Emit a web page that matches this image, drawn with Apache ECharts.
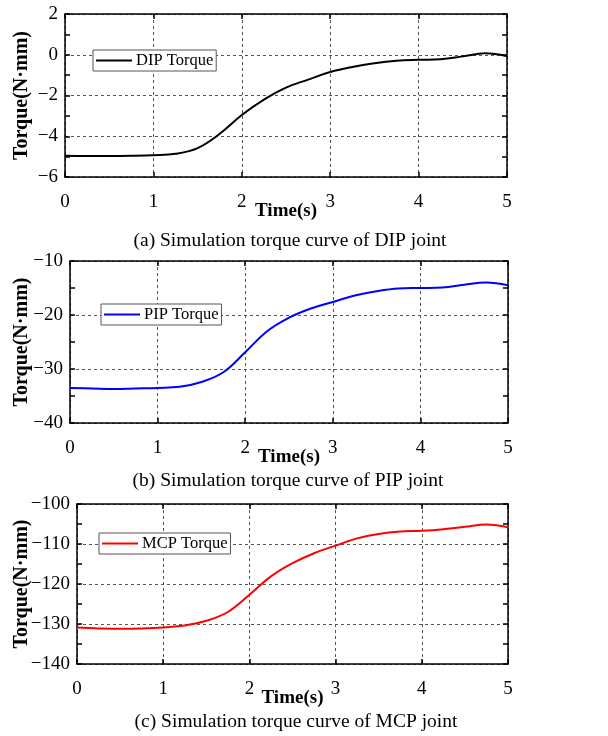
<!DOCTYPE html>
<html><head><meta charset="utf-8">
<script src="https://cdn.jsdelivr.net/npm/echarts@6/dist/echarts.min.js"></script>
<style>html,body{margin:0;padding:0;background:#fff}#c{width:608px;height:736px}</style>
</head><body><div id="c"></div>
<script>
const time = [0,0.25,0.5,0.75,1,1.25,1.5,1.75,2,2.25,2.5,2.75,3,3.25,3.5,3.75,4,4.25,4.5,4.75,5];
const dipTorque = [-4.96,-4.97,-4.97,-4.96,-4.93,-4.86,-4.58,-3.88,-2.96,-2.2,-1.61,-1.22,-0.85,-0.6,-0.42,-0.3,-0.25,-0.22,-0.08,0.07,-0.07];
const pipTorque = [-33.5,-33.6,-33.7,-33.6,-33.5,-33.3,-32.4,-30.6,-26.9,-23.0,-20.5,-18.8,-17.6,-16.4,-15.6,-15.1,-15.0,-14.9,-14.4,-14.0,-14.5];
const mcpTorque = [-130.9,-131.1,-131.2,-131.1,-130.85,-130.4,-129.2,-127.0,-122.7,-118.1,-114.8,-112.3,-110.4,-108.6,-107.5,-106.9,-106.7,-106.3,-105.7,-105.1,-105.8];
const seriesNames = ['DIP Torque','PIP Torque','MCP Torque'];
const seriesColors = ['#000000','#0000ff','#ff0000'];
const captions = ['(a) Simulation torque curve of DIP joint','(b) Simulation torque curve of PIP joint','(c) Simulation torque curve of MCP joint'];
const yRanges = [[-6,2,2],[-40,-10,10],[-140,-100,10]];
const xRange = [0,5,1];
const xName = 'Time(s)';
const yName = 'Torque(N·mm)';

const FONT = 'Liberation Serif';
const grids = [
  {left:65, right:101, top:14, height:163, outerBoundsMode:'none', containLabel:false},
  {left:70, right:100, top:261, height:162, outerBoundsMode:'none', containLabel:false},
  {left:77, right:100, top:504, height:160, outerBoundsMode:'none', containLabel:false}
];
const yGaps = [33,38,45];
const legendPos = [[93,50],[101,304],[99,533]];
const captionY = [241,481,722];
const captionX = [290,288,296];
const allData = [dipTorque, pipTorque, mcpTorque];
const fmt = v => String(v).replace('-', '\u2212');

const xAxes = [], yAxes = [], series = [], legends = [], graphics = [];
grids.forEach((g, i) => {
  const axLine = {show:true, onZero:false, lineStyle:{color:'#000', width:1.5}};
  xAxes.push({gridIndex:i, type:'value', min:xRange[0], max:xRange[1], interval:xRange[2],
    name:xName, nameLocation:'middle', nameGap:25, nameMoveOverlap:false,
    nameTextStyle:{fontFamily:FONT, fontWeight:'bold', fontSize:19, color:'#000', verticalAlign:'top'},
    axisLine:axLine, axisTick:{show:true, inside:true, length:5, lineStyle:{color:'#000', width:1.5}},
    axisLabel:{fontFamily:FONT, fontSize:19, color:'#000', margin:16, formatter:fmt},
    splitLine:{show:true, lineStyle:{type:[3,3], color:'#555', width:1}}});
  xAxes.push({gridIndex:i, type:'value', position:'top', min:xRange[0], max:xRange[1], interval:xRange[2],
    axisLine:axLine, axisTick:{show:true, inside:true, length:5, lineStyle:{color:'#000', width:1.5}},
    axisLabel:{show:false}, splitLine:{show:false}});
  const yr = yRanges[i];
  yAxes.push({gridIndex:i, type:'value', min:yr[0], max:yr[1], interval:yr[2],
    name:yName, nameLocation:'middle', nameGap:yGaps[i], nameRotate:90, nameMoveOverlap:false,
    nameTextStyle:{fontFamily:FONT, fontWeight:'bold', fontSize:20, color:'#000'},
    axisLine:axLine, axisTick:{show:true, inside:true, length:5, lineStyle:{color:'#000', width:1.5}},
    minorTick:{show:true, splitNumber:2, length:5, lineStyle:{color:'#000', width:1.5}},
    axisLabel:{fontFamily:FONT, fontSize:19, color:'#000', margin:7, formatter:fmt},
    splitLine:{show:true, lineStyle:{type:[3,3], color:'#555', width:1}}});
  yAxes.push({gridIndex:i, type:'value', position:'right', min:yr[0], max:yr[1], interval:yr[2],
    axisLine:axLine, axisTick:{show:true, inside:true, length:5, lineStyle:{color:'#000', width:1.5}},
    minorTick:{show:true, splitNumber:2, length:5, lineStyle:{color:'#000', width:1.5}},
    axisLabel:{show:false}, splitLine:{show:false}});
  series.push({type:'line', name:seriesNames[i], xAxisIndex:2*i, yAxisIndex:2*i,
    data: time.map((t, k) => [t, allData[i][k]]), smooth:0.4, symbol:'none',
    lineStyle:{color:seriesColors[i], width:2}, itemStyle:{color:seriesColors[i]}, z:5});
  legends.push({data:[{name:seriesNames[i], icon:'rect'}], left:legendPos[i][0], top:legendPos[i][1],
    backgroundColor:'#fff', borderColor:'#555', borderWidth:1, padding:[2,3,2,3],
    itemWidth:36, itemHeight:2, itemGap:0,
    textStyle:{fontFamily:FONT, fontSize:16.5, color:'#000', padding:[2,0,0,-1], lineHeight:15}});
  graphics.push({type:'text', x:captionX[i], y:captionY[i],
    style:{text:captions[i], font:'19.5px "Liberation Serif"', fill:'#000', align:'center', verticalAlign:'middle'}});
});

const chart = echarts.init(document.getElementById('c'), null, {renderer:'canvas'});
chart.setOption({
  animation:false, backgroundColor:'#fff',
  grid: grids, xAxis: xAxes, yAxis: yAxes, series: series, legend: legends, graphic: graphics
});
</script></body></html>
